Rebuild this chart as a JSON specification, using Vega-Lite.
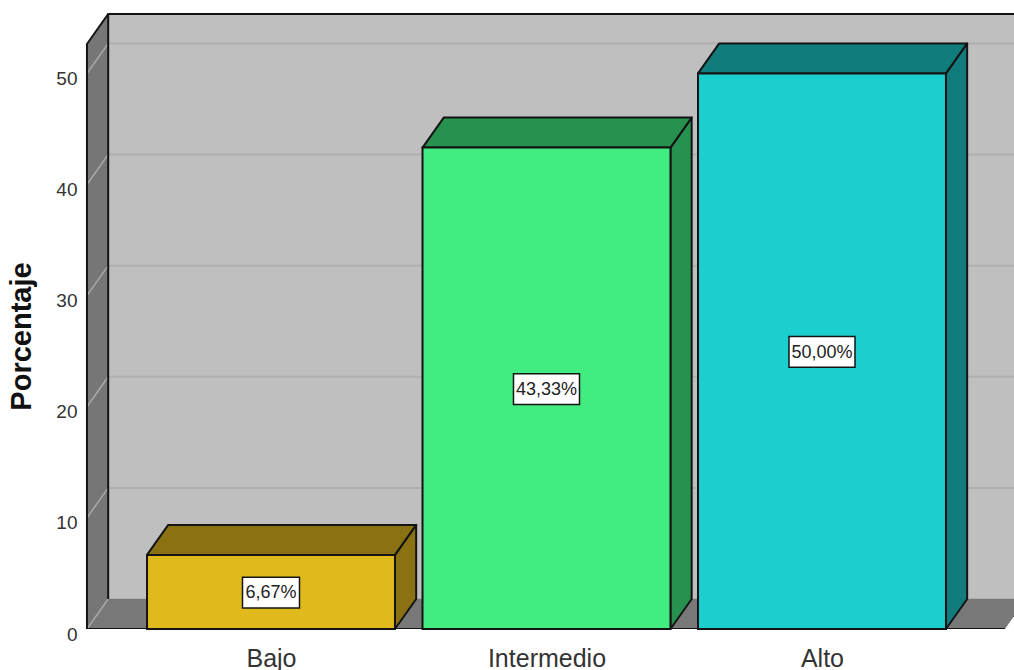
{
  "$schema": "https://vega.github.io/schema/vega-lite/v6.json",
  "autosize": {"type": "none"},
  "padding": {"left": 80, "top": 10, "right": 0, "bottom": 41},
  "width": 934,
  "height": 619,
  "background": "white",
  "view": {"stroke": null},
  "params": [
    {"name": "fondoX", "value": 0.077},
    {"name": "fondoY", "value": 2.7},
    {"name": "medioAncho", "value": 0.45}
  ],
  "datasets": {
    "barras": [
      {"categoria": "Bajo", "posicion": 1, "valor": 6.67, "etiqueta": "6,67%"},
      {"categoria": "Intermedio", "posicion": 2, "valor": 43.33, "etiqueta": "43,33%"},
      {"categoria": "Alto", "posicion": 3, "valor": 50.0, "etiqueta": "50,00%"}
    ],
    "marcas": [{"v": 0}, {"v": 10}, {"v": 20}, {"v": 30}, {"v": 40}, {"v": 50}],
    "caja": [{"izq": 0.332, "der": 3.664, "techo": 52.65}]
  },
  "layer": [
    {
      "description": "Pared del fondo",
      "data": {"name": "caja"},
      "transform": [
        {"calculate": "datum.izq + fondoX", "as": "x1"},
        {"calculate": "datum.der + fondoX", "as": "x2"},
        {"calculate": "datum.techo + fondoY", "as": "y1"},
        {"calculate": "fondoY", "as": "y2"}
      ],
      "mark": {"type": "rect", "fill": "#bfbfbf", "clip": true},
      "encoding": {
        "x": {
          "field": "x1", "type": "quantitative",
          "scale": {"domain": [0.3067, 3.697], "nice": false, "zero": false},
          "axis": {
            "values": [1, 2, 3],
            "labelExpr": "datum.value == 1 ? 'Bajo' : datum.value == 2 ? 'Intermedio' : 'Alto'",
            "title": null, "domain": false, "ticks": false, "grid": false,
            "labelFont": "Liberation Sans", "labelFontSize": 25, "labelColor": "#333333",
            "labelPadding": 17, "labelOverlap": false, "labelFlush": false
          }
        },
        "x2": {"field": "x2"},
        "y": {
          "field": "y1", "type": "quantitative",
          "scale": {"domain": [0, 55.71], "nice": false, "zero": false},
          "axis": {
            "values": [0, 10, 20, 30, 40, 50],
            "title": "Porcentaje", "domain": false, "ticks": false, "grid": false,
            "labelFont": "Liberation Sans", "labelFontSize": 19, "labelColor": "#333333",
            "labelPadding": 3, "labelOffset": 5,
            "titleFont": "Liberation Sans", "titleFontSize": 29, "titleFontWeight": "bold",
            "titleColor": "#111111", "titleX": -44, "titleY": 326, "titleAlign": "center"
          }
        },
        "y2": {"field": "y2"}
      }
    },
    {
      "description": "Lineas de cuadricula en la pared del fondo",
      "data": {"name": "marcas"},
      "transform": [
        {"calculate": "datum.v + fondoY", "as": "yf"},
        {"calculate": "0.332 + fondoX", "as": "xi"},
        {"calculate": "3.664 + fondoX", "as": "xd"}
      ],
      "mark": {"type": "rule", "stroke": "#b0b0b0", "strokeWidth": 2, "clip": true},
      "encoding": {
        "x": {"field": "xi", "type": "quantitative", "scale": {"domain": [0.3067, 3.697], "nice": false, "zero": false}},
        "x2": {"field": "xd"},
        "y": {"field": "yf", "type": "quantitative", "scale": {"domain": [0, 55.71], "nice": false, "zero": false}}
      }
    },
    {
      "description": "Suelo",
      "data": {"name": "caja"},
      "transform": [
        {"calculate": "0", "as": "frente"},
        {"calculate": "1", "as": "fondo"},
        {"fold": ["frente", "fondo"], "as": ["cara", "t"]},
        {"calculate": "datum.t * fondoY", "as": "yy"},
        {"calculate": "datum.izq + datum.t * fondoX", "as": "xa"},
        {"calculate": "datum.der + datum.t * fondoX", "as": "xb"}
      ],
      "mark": {"type": "area", "orient": "horizontal", "fill": "#787878", "clip": true},
      "encoding": {
        "y": {"field": "yy", "type": "quantitative", "scale": {"domain": [0, 55.71], "nice": false, "zero": false}},
        "x": {"field": "xa", "type": "quantitative", "scale": {"domain": [0.3067, 3.697], "nice": false, "zero": false}},
        "x2": {"field": "xb"}
      }
    },
    {
      "description": "Pared izquierda",
      "data": {"name": "caja"},
      "transform": [
        {"calculate": "0", "as": "frente"},
        {"calculate": "1", "as": "fondo"},
        {"fold": ["frente", "fondo"], "as": ["cara", "t"]},
        {"calculate": "datum.izq + datum.t * fondoX", "as": "xx"},
        {"calculate": "datum.t * fondoY", "as": "ya"},
        {"calculate": "datum.techo + datum.t * fondoY", "as": "yb"}
      ],
      "mark": {"type": "area", "orient": "vertical", "fill": "#767676"},
      "encoding": {
        "x": {"field": "xx", "type": "quantitative", "scale": {"domain": [0.3067, 3.697], "nice": false, "zero": false}},
        "y": {"field": "yb", "type": "quantitative", "scale": {"domain": [0, 55.71], "nice": false, "zero": false}},
        "y2": {"field": "ya"}
      }
    },
    {
      "description": "Lineas de cuadricula en la pared izquierda",
      "data": {"name": "marcas"},
      "transform": [
        {"calculate": "0", "as": "frente"},
        {"calculate": "1", "as": "fondo"},
        {"fold": ["frente", "fondo"], "as": ["cara", "t"]},
        {"calculate": "0.332 + datum.t * fondoX", "as": "xx"},
        {"calculate": "datum.v + datum.t * fondoY", "as": "yy"}
      ],
      "mark": {"type": "line", "stroke": "#a8a8a8", "strokeWidth": 1.5},
      "encoding": {
        "x": {"field": "xx", "type": "quantitative", "scale": {"domain": [0.3067, 3.697], "nice": false, "zero": false}},
        "y": {"field": "yy", "type": "quantitative", "scale": {"domain": [0, 55.71], "nice": false, "zero": false}},
        "detail": {"field": "v"}
      }
    },
    {
      "description": "Contorno de la caja: aristas de la pared izquierda, techo y base",
      "data": {"values": [
        {"arista": "a", "xa": 0.332, "ya": 0, "orden": 0},
        {"arista": "a", "xa": 0.332, "ya": 52.65, "orden": 1},
        {"arista": "a", "xa": 0.409, "ya": 55.35, "orden": 2},
        {"arista": "a", "xa": 3.741, "ya": 55.35, "orden": 3},
        {"arista": "b", "xa": 0.409, "ya": 55.35, "orden": 0},
        {"arista": "b", "xa": 0.409, "ya": 2.7, "orden": 1},
        {"arista": "c", "xa": 0.332, "ya": 0, "orden": 0},
        {"arista": "c", "xa": 3.664, "ya": 0, "orden": 1}
      ]},
      "mark": {"type": "line", "stroke": "#141414", "strokeWidth": 2, "clip": true},
      "encoding": {
        "x": {"field": "xa", "type": "quantitative", "scale": {"domain": [0.3067, 3.697], "nice": false, "zero": false}},
        "y": {"field": "ya", "type": "quantitative", "scale": {"domain": [0, 55.71], "nice": false, "zero": false}},
        "detail": {"field": "arista"},
        "order": {"field": "orden"}
      }
    },
    {
      "description": "Cara lateral de cada barra",
      "data": {"name": "barras"},
      "transform": [
        {"calculate": "0", "as": "frente"},
        {"calculate": "1", "as": "fondo"},
        {"fold": ["frente", "fondo"], "as": ["cara", "t"]},
        {"calculate": "datum.posicion + medioAncho + datum.t * fondoX", "as": "xx"},
        {"calculate": "datum.t * fondoY", "as": "ya"},
        {"calculate": "datum.valor + datum.t * fondoY", "as": "yb"}
      ],
      "mark": {"type": "area", "orient": "vertical", "stroke": "#141414", "strokeWidth": 2, "strokeJoin": "round"},
      "encoding": {
        "x": {"field": "xx", "type": "quantitative", "scale": {"domain": [0.3067, 3.697], "nice": false, "zero": false}},
        "y": {"field": "yb", "type": "quantitative", "scale": {"domain": [0, 55.71], "nice": false, "zero": false}},
        "y2": {"field": "ya"},
        "detail": {"field": "categoria"},
        "fill": {
          "field": "categoria", "type": "nominal", "legend": null,
          "scale": {"domain": ["Bajo", "Intermedio", "Alto"], "range": ["#8a7212", "#27914f", "#117c7c"]}
        }
      }
    },
    {
      "description": "Cara superior de cada barra",
      "data": {"name": "barras"},
      "transform": [
        {"calculate": "0", "as": "frente"},
        {"calculate": "1", "as": "fondo"},
        {"fold": ["frente", "fondo"], "as": ["cara", "t"]},
        {"calculate": "datum.valor + datum.t * fondoY", "as": "yy"},
        {"calculate": "datum.posicion - medioAncho + datum.t * fondoX", "as": "xa"},
        {"calculate": "datum.posicion + medioAncho + datum.t * fondoX", "as": "xb"}
      ],
      "mark": {"type": "area", "orient": "horizontal", "stroke": "#141414", "strokeWidth": 2, "strokeJoin": "round"},
      "encoding": {
        "y": {"field": "yy", "type": "quantitative", "scale": {"domain": [0, 55.71], "nice": false, "zero": false}},
        "x": {"field": "xa", "type": "quantitative", "scale": {"domain": [0.3067, 3.697], "nice": false, "zero": false}},
        "x2": {"field": "xb"},
        "detail": {"field": "categoria"},
        "fill": {
          "field": "categoria", "type": "nominal", "legend": null,
          "scale": {"domain": ["Bajo", "Intermedio", "Alto"], "range": ["#8a7212", "#27914f", "#117c7c"]}
        }
      }
    },
    {
      "description": "Cara frontal de cada barra",
      "data": {"name": "barras"},
      "transform": [
        {"calculate": "datum.posicion - medioAncho", "as": "xa"},
        {"calculate": "datum.posicion + medioAncho", "as": "xb"}
      ],
      "mark": {"type": "rect", "stroke": "#141414", "strokeWidth": 2},
      "encoding": {
        "x": {"field": "xa", "type": "quantitative", "scale": {"domain": [0.3067, 3.697], "nice": false, "zero": false}},
        "x2": {"field": "xb"},
        "y": {"field": "valor", "type": "quantitative", "scale": {"domain": [0, 55.71], "nice": false, "zero": false}},
        "y2": {"datum": 0},
        "fill": {
          "field": "categoria", "type": "nominal", "legend": null,
          "scale": {"domain": ["Bajo", "Intermedio", "Alto"], "range": ["#e0ba1c", "#41ec80", "#1bcfcf"]}
        }
      }
    },
    {
      "description": "Recuadro blanco de cada etiqueta, centrado en la barra",
      "data": {"name": "barras"},
      "transform": [
        {"calculate": "(12 + 9 * length(datum.etiqueta)) / 2 / 275.5", "as": "semi"},
        {"calculate": "datum.posicion - datum.semi", "as": "xa"},
        {"calculate": "datum.posicion + datum.semi", "as": "xb"},
        {"calculate": "datum.valor / 2 + 1.45", "as": "ya"},
        {"calculate": "datum.valor / 2 - 1.45", "as": "yb"}
      ],
      "mark": {"type": "rect", "fill": "white", "stroke": "#141414", "strokeWidth": 1.5, "yOffset": 1.5},
      "encoding": {
        "x": {"field": "xa", "type": "quantitative", "scale": {"domain": [0.3067, 3.697], "nice": false, "zero": false}},
        "x2": {"field": "xb"},
        "y": {"field": "ya", "type": "quantitative", "scale": {"domain": [0, 55.71], "nice": false, "zero": false}},
        "y2": {"field": "yb"}
      }
    },
    {
      "description": "Porcentaje de cada barra",
      "data": {"name": "barras"},
      "transform": [{"calculate": "datum.valor / 2", "as": "medio"}],
      "mark": {"type": "text", "font": "Liberation Sans", "fontSize": 18, "color": "#222222", "align": "center", "baseline": "middle", "yOffset": 1.5},
      "encoding": {
        "x": {"field": "posicion", "type": "quantitative", "scale": {"domain": [0.3067, 3.697], "nice": false, "zero": false}},
        "y": {"field": "medio", "type": "quantitative", "scale": {"domain": [0, 55.71], "nice": false, "zero": false}},
        "text": {"field": "etiqueta"}
      }
    }
  ],
  "resolve": {"scale": {"fill": "independent"}}
}
